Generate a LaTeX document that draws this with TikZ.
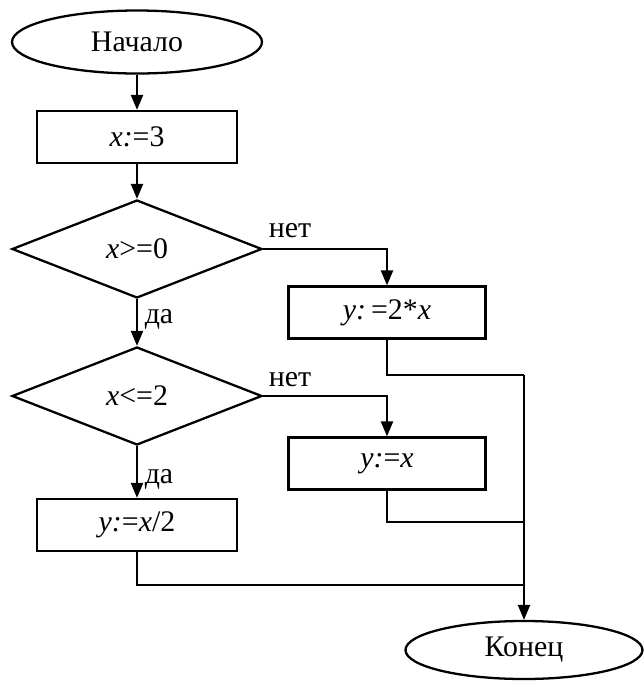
\documentclass[tikz,border=0pt]{standalone}
\usepackage{fontspec}
\setmainfont{Liberation Serif}
\newfontfamily\blockfont{Liberation Serif}
\usepackage{tikz}
\usetikzlibrary{shapes.geometric,arrows.meta,positioning,calc}

\tikzset{
    flow/.style={line width=1.3pt},
    arr/.style={flow,-{Triangle[length=3mm,width=2.4mm]}},
    term/.style={draw,flow,ellipse,inner sep=0pt,font=\blockfont\fontsize{17}{20}\selectfont},
    proc/.style={draw,flow,rectangle,inner sep=0pt,minimum width=4cm,minimum height=1.04cm,font=\blockfont\fontsize{17}{20}\selectfont},
    cond/.style={draw,flow,diamond,inner sep=0pt,minimum width=5cm,minimum height=1.96cm,font=\blockfont\fontsize{17}{20}\selectfont},
    lbl/.style={font=\blockfont\fontsize{17}{20}\selectfont,inner sep=0pt}
}

\begin{document}
\begin{tikzpicture}
    \useasboundingbox (0,0) rectangle (12.86,-13.64);

    % blocks
    \node[term,minimum width=5cm,minimum height=1.26cm] (start) at (2.74,-0.84) {Начало};
    \node[proc] (setx) at (2.74,-2.74) {\textit{x:}=3};
    \node[cond] (ifpos) at (2.74,-4.98) {\textit{x}>=0};
    \node[proc,minimum width=3.94cm] (dbl) at (7.74,-6.25) {\textit{y:}\,=2*\textit{x}};
    \node[cond] (ifsmall) at (2.74,-7.92) {\textit{x}<=2};
    \node[proc,minimum width=3.94cm] (same) at (7.74,-9.27) {\textit{y:}=\textit{x}};
    \node[proc] (half) at (2.74,-10.5) {\textit{y:}=\textit{x}/2};
    \node[term,minimum width=4.74cm,minimum height=1.16cm] (stop) at (10.48,-13.0) {Конец};

    % branch labels
    \node[lbl] (no1) at (5.8,-4.62) {нет};
    \node[lbl] (yes1) at (3.18,-6.38) {да};
    \node[lbl] (no2) at (5.8,-7.6) {нет};
    \node[lbl] (yes2) at (3.18,-9.58) {да};

    % merge points
    \coordinate (m1) at (10.48,-7.5);
    \coordinate (m2) at (10.48,-10.44);
    \coordinate (m3) at (10.48,-11.7);

    % main line
    \draw[arr] (start) -- (setx);
    \draw[arr] (setx) -- (ifpos);
    \draw[arr] (ifpos) -- (ifsmall);
    \draw[arr] (ifsmall) -- (half);

    % no branches
    \draw[arr] (ifpos.east) -| (dbl.north);
    \draw[arr] (ifsmall.east) -| (same.north);

    % join
    \draw[flow] (dbl.south) |- (m1);
    \draw[flow] (same.south) |- (m2);
    \draw[flow] (half.south) |- (m3);
    \draw[arr] (m1) -- (stop.north);
\end{tikzpicture}
\end{document}
